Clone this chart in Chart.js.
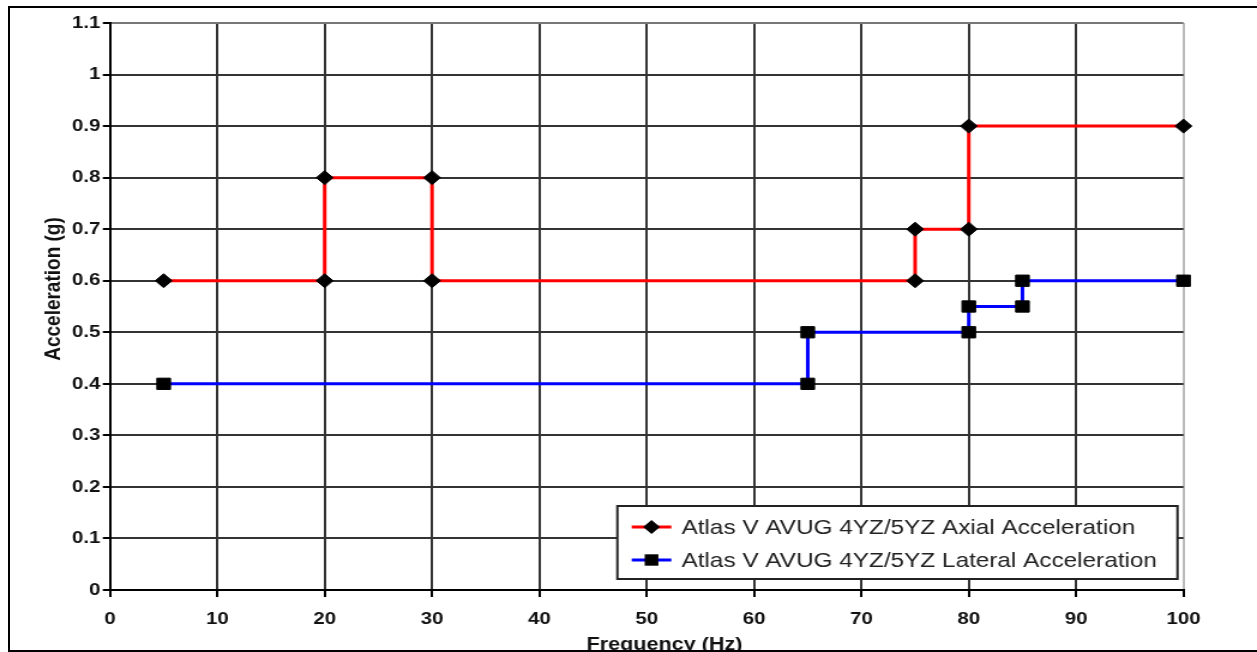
<!DOCTYPE html>
<html>
<head>
<meta charset="utf-8">
<title>Atlas V AVUG acceleration</title>
<script src="https://cdn.jsdelivr.net/npm/chart.js@4.4.1/dist/chart.umd.min.js"></script>
<style>
  html, body { margin: 0; padding: 0; background: #fff; overflow: hidden; }
  #wrap { position: relative; width: 1257px; height: 652px; }
  #c { position: absolute; left: 0; top: 0; }
  #frame { position: absolute; left: 8px; top: 6px; width: 1300px; height: 642px;
           border: 2px solid #000; border-right: none; pointer-events: none; }
</style>
</head>
<body>
<div id="wrap">
  <!-- drawn at 1048 wide and stretched to 1257, like the scanned original -->
  <canvas id="c" width="1048" height="652" style="width:1257px;height:652px"></canvas>
  <div id="frame"></div>
</div>
<script>
var axialFreq = [5, 20, 20, 30, 30, 75, 75, 80, 80, 100];
var axialAccel = [0.6, 0.6, 0.8, 0.8, 0.6, 0.6, 0.7, 0.7, 0.9, 0.9];
var lateralFreq = [5, 65, 65, 80, 80, 85, 85, 100];
var lateralAccel = [0.4, 0.4, 0.5, 0.5, 0.55, 0.55, 0.6, 0.6];
var xTicks = ['0', '10', '20', '30', '40', '50', '60', '70', '80', '90', '100'];
var yTicks = ['0', '0.1', '0.2', '0.3', '0.4', '0.5', '0.6', '0.7', '0.8', '0.9', '1', '1.1'];
var seriesNames = ['Atlas V AVUG 4YZ/5YZ Axial Acceleration', 'Atlas V AVUG 4YZ/5YZ Lateral Acceleration'];
var xTitle = 'Frequency (Hz)';
var yTitle = 'Acceleration (g)';

function pts(xs, ys) {
    return xs.map(function (x, i) { return {x: x, y: ys[i]}; });
}

function marker(ctx, style, x, y) {
    ctx.beginPath();
    if (style === 'rectRot') {
        ctx.moveTo(x - 7, y); ctx.lineTo(x, y - 7); ctx.lineTo(x + 7, y); ctx.lineTo(x, y + 7);
    } else {
        ctx.rect(x - 5.7, y - 5.7, 11.4, 11.4);
    }
    ctx.closePath();
    ctx.fillStyle = '#000';
    ctx.fill();
}

// legend box in the lower right of the plot, plus the two axis titles
var extras = {
    id: 'extras',
    afterDraw: function (chart) {
        var ctx = chart.ctx, a = chart.chartArea;
        ctx.save();
        var w = 467, h = 73;
        var bx = a.right - 5 - w, by = a.bottom - 11 - h;
        ctx.fillStyle = '#fff';
        ctx.fillRect(bx, by, w, h);
        ctx.strokeStyle = '#222';
        ctx.lineWidth = 2;
        ctx.strokeRect(bx, by, w, h);
        ctx.font = '20.3px "Liberation Sans", Arial, sans-serif';
        ctx.textBaseline = 'middle';
        chart.data.datasets.forEach(function (ds, i) {
            var ry = by + 21 + i * 33;
            ctx.strokeStyle = ds.borderColor;
            ctx.lineWidth = 3;
            ctx.beginPath();
            ctx.moveTo(bx + 12, ry);
            ctx.lineTo(bx + 45, ry);
            ctx.stroke();
            marker(ctx, ds.pointStyle, bx + 28.5, ry);
            ctx.fillStyle = '#222';
            ctx.textAlign = 'left';
            ctx.fillText(ds.label, bx + 53.5, ry + 1);
        });

        ctx.fillStyle = '#111';
        ctx.font = 'bold 18px "Liberation Sans", Arial, sans-serif';
        ctx.textAlign = 'center';
        ctx.textBaseline = 'alphabetic';
        ctx.fillText(xTitle, 554, 650);

        ctx.translate(44.5, 289);
        ctx.rotate(-Math.PI / 2);
        ctx.font = 'bold 19px "Liberation Sans", Arial, sans-serif';
        ctx.textBaseline = 'middle';
        ctx.fillText(yTitle, 0, 0);
        ctx.restore();
    }
};

var tickFont = {family: '"Liberation Sans", Arial, sans-serif', size: 17, weight: 'bold'};

new Chart(document.getElementById('c'), {
    type: 'line',
    data: {
        datasets: [
            {
                label: seriesNames[0],
                data: pts(axialFreq, axialAccel),
                borderColor: '#ff0000',
                borderWidth: 3,
                pointStyle: 'rectRot',
                pointRadius: 7,
                pointBackgroundColor: '#000',
                pointBorderColor: '#000',
                pointBorderWidth: 1,
                tension: 0,
                clip: false
            },
            {
                label: seriesNames[1],
                data: pts(lateralFreq, lateralAccel),
                borderColor: '#0000ff',
                borderWidth: 3,
                pointStyle: 'rect',
                pointRadius: 8,
                pointBackgroundColor: '#000',
                pointBorderColor: '#000',
                pointBorderWidth: 1,
                tension: 0,
                clip: false
            }
        ]
    },
    options: {
        responsive: false,
        animation: false,
        devicePixelRatio: 1,
        layout: {padding: {top: 23, right: 61.3, left: 0, bottom: 0}},
        plugins: {
            legend: {display: false},
            tooltip: {enabled: false}
        },
        scales: {
            x: {
                type: 'linear',
                min: 0,
                max: 100,
                afterFit: function (s) { s.height = 62; },
                ticks: {
                    stepSize: 10,
                    maxRotation: 0,
                    autoSkip: false,
                    padding: 12,
                    color: '#111',
                    font: tickFont,
                    callback: function (v, i) { return xTicks[i]; }
                },
                grid: {
                    color: function (c) { return c.index === xTicks.length - 1 ? '#bbb' : '#333'; },
                    lineWidth: 2,
                    tickLength: 7,
                    tickColor: '#000'
                },
                border: {color: '#000', width: 2}
            },
            y: {
                min: 0,
                max: 1.1,
                afterFit: function (s) { s.width = 91.7; },
                ticks: {
                    stepSize: 0.1,
                    autoSkip: false,
                    padding: 2,
                    color: '#111',
                    font: tickFont,
                    callback: function (v, i) { return yTicks[i]; }
                },
                grid: {
                    color: function (c) { return c.index === yTicks.length - 1 ? '#777' : '#333'; },
                    lineWidth: 2,
                    tickLength: 6,
                    tickColor: '#000'
                },
                border: {color: '#000', width: 2}
            }
        }
    },
    plugins: [extras]
});
</script>
</body>
</html>
